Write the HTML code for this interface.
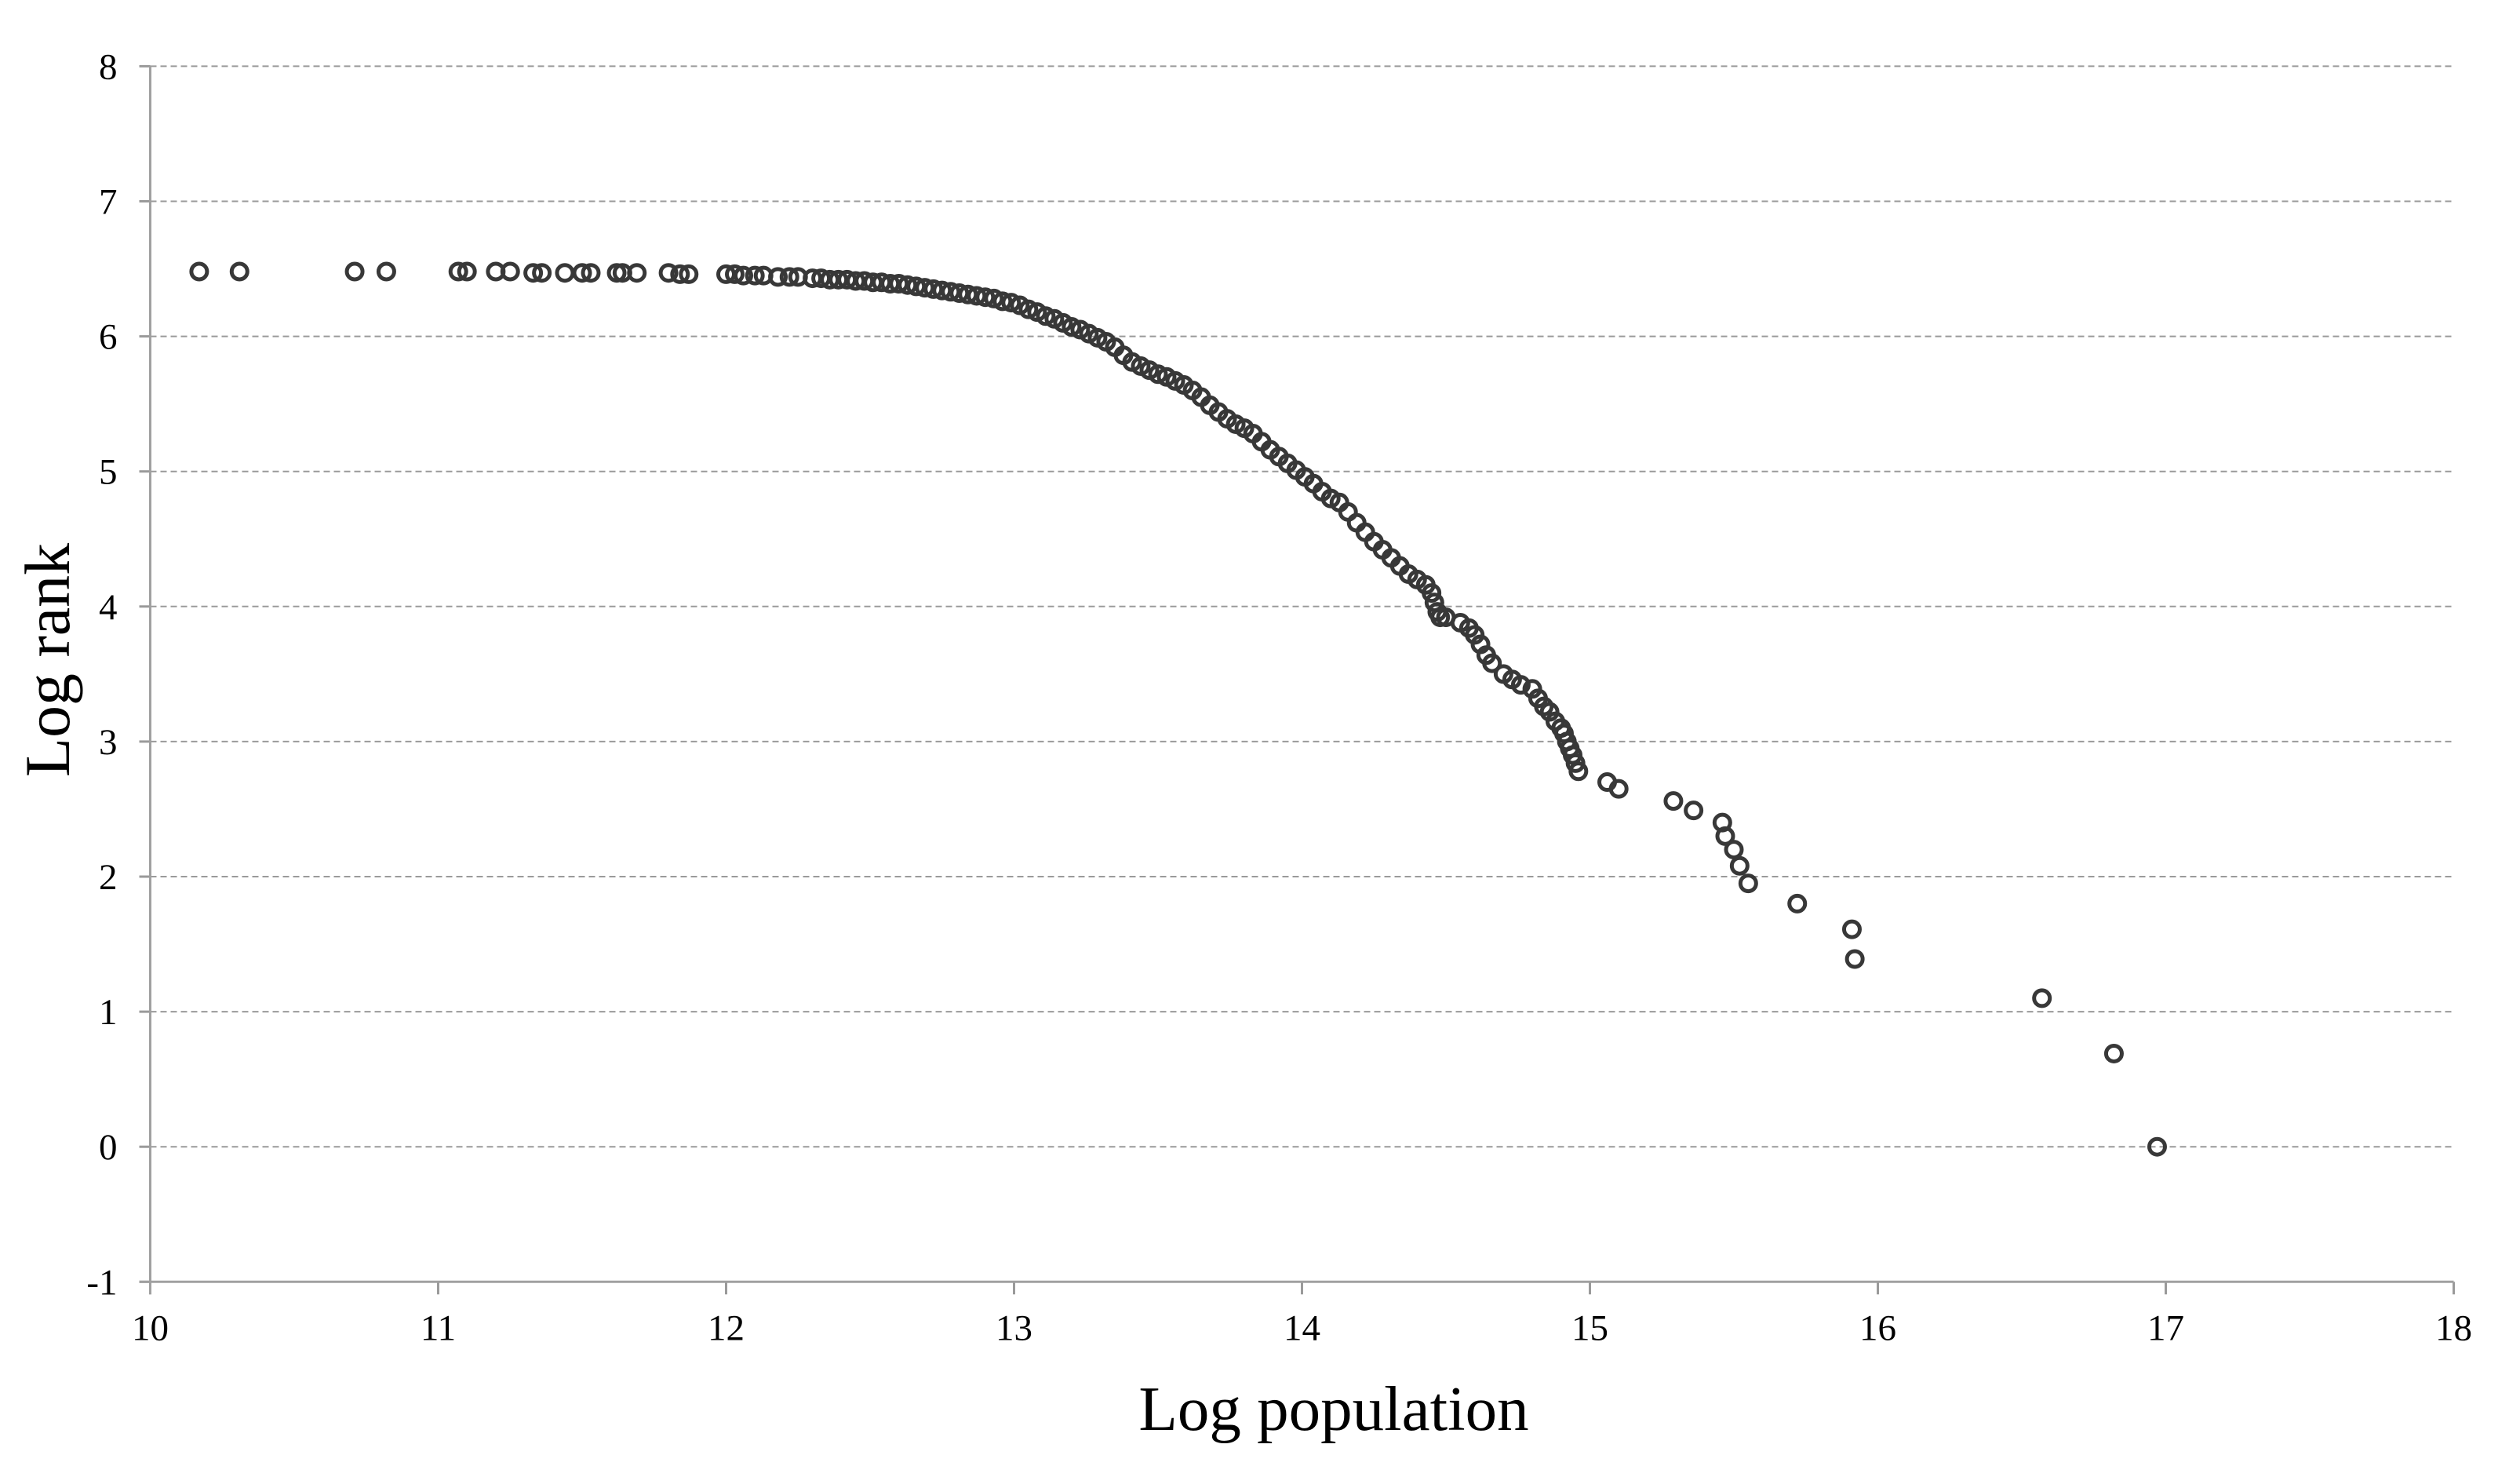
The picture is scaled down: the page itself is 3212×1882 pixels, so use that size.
<!DOCTYPE html>
<html><head><meta charset="utf-8"><style>
html,body{margin:0;padding:0;background:#fff;}
svg{display:block;}
</style></head><body>
<svg id="chart" width="3212" height="1882" viewBox="0 0 3212 1882" xmlns="http://www.w3.org/2000/svg">
<g id="grid"></g>
<g id="axes"></g>
<g id="points"></g>
<text x="0" y="0" transform="translate(88,841) rotate(-90)" text-anchor="middle" font-family="Liberation Serif, serif" font-size="82" fill="#000">Log rank</text>
<text x="1700" y="1822" text-anchor="middle" font-family="Liberation Serif, serif" font-size="81" fill="#000">Log population</text>
</svg>
<script>
const xTicks = [10,11,12,13,14,15,16,17,18];
const yTicks = [-1,0,1,2,3,4,5,6,7,8];
const logPop = [10.17,10.31,10.71,10.82,11.07,11.10,11.20,11.25,11.33,11.36,11.44,11.50,11.53,11.62,11.64,11.69,11.80,11.84,11.87,
12.00,12.03,12.06,12.10,12.13,12.18,12.22,12.25,
12.30,12.33,12.36,12.39,12.42,12.45,12.48,12.51,12.54,12.57,12.60,12.63,12.66,12.69,12.72,12.75,12.78,12.81,12.84,12.87,12.90,12.93,12.96,12.99,
13.02,13.05,13.08,13.11,13.14,13.17,13.20,13.23,13.26,13.29,13.32,13.35,13.38,13.41,13.44,13.47,13.50,13.53,13.56,13.59,13.62,13.65,13.68,13.71,13.74,13.77,13.80,13.83,13.86,13.89,13.92,13.95,13.98,
14.01,14.04,14.07,14.10,14.13,14.16,14.19,14.22,14.25,14.28,14.31,14.34,14.37,14.40,14.43,14.45,14.46,14.47,14.48,14.50,
14.55,14.58,14.60,14.62,14.64,14.66,14.70,14.73,14.76,14.80,14.82,14.84,14.86,14.88,14.90,14.91,14.92,14.93,14.94,14.95,14.96,
15.06,15.10,15.29,15.36,15.46,15.47,15.50,15.52,15.55,15.72,15.91,15.92,16.57,16.82,16.97];
const logRank = [6.48,6.48,6.48,6.48,6.48,6.48,6.48,6.48,6.47,6.47,6.47,6.47,6.47,6.47,6.47,6.47,6.47,6.46,6.46,
6.46,6.46,6.45,6.45,6.45,6.44,6.44,6.44,
6.43,6.43,6.42,6.42,6.42,6.41,6.41,6.40,6.40,6.39,6.39,6.38,6.37,6.36,6.35,6.34,6.33,6.32,6.31,6.30,6.29,6.28,6.26,6.25,
6.23,6.20,6.18,6.15,6.13,6.10,6.07,6.05,6.02,5.99,5.96,5.92,5.86,5.81,5.78,5.75,5.72,5.70,5.67,5.64,5.60,5.55,5.49,5.44,5.39,5.35,5.32,5.28,5.22,5.16,5.11,5.06,5.01,
4.96,4.91,4.85,4.80,4.77,4.70,4.62,4.55,4.48,4.42,4.36,4.30,4.24,4.20,4.16,4.10,4.03,3.96,3.92,3.92,
3.88,3.84,3.79,3.72,3.64,3.58,3.50,3.46,3.42,3.39,3.32,3.26,3.22,3.15,3.10,3.06,3.00,2.95,2.90,2.84,2.78,
2.70,2.65,2.56,2.49,2.40,2.30,2.20,2.08,1.95,1.80,1.61,1.39,1.10,0.69,0.00];

const NS='http://www.w3.org/2000/svg';
const X0=191.5, XU=367, Y8=84.4, YU=172.1;
function sx(v){return X0+(v-10)*XU;}
function sy(v){return Y8+(8-v)*YU;}
const grid=document.getElementById('grid'), axes=document.getElementById('axes'), pts=document.getElementById('points');
function mk(tag,attrs,parent){const e=document.createElementNS(NS,tag);for(const k in attrs)e.setAttribute(k,attrs[k]);parent.appendChild(e);return e;}

yTicks.forEach(v=>{
  const y=sy(v);
  if(v>-1){
    const g=mk('line',{x1:sx(10),x2:sx(18),y1:y,y2:y,stroke:'#9a9a9a','stroke-width':2,'stroke-dasharray':'8 5'},grid);
    
    
  }
  const t=mk('line',{x1:sx(10)-14,x2:sx(10),y1:y,y2:y,stroke:'#9a9a9a','stroke-width':3},axes);
  
  
  const l=mk('text',{x:sx(10)-42,y:y+16,'text-anchor':'end','font-family':'Liberation Serif, serif','font-size':47,fill:'#000'},axes);
  l.textContent=String(v);
  
  
});
xTicks.forEach(v=>{
  const x=sx(v);
  const t=mk('line',{x1:x,x2:x,y1:sy(-1),y2:sy(-1)+16,stroke:'#9a9a9a','stroke-width':3},axes);
  
  
  const l=mk('text',{x:x,y:sy(-1)+74,'text-anchor':'middle','font-family':'Liberation Serif, serif','font-size':47,fill:'#000'},axes);
  l.textContent=String(v);
  
  
});
const ya=mk('line',{x1:sx(10),x2:sx(10),y1:sy(8),y2:sy(-1)+16,stroke:'#a0a0a0','stroke-width':3},axes);


const xa=mk('line',{x1:sx(10)-14,x2:sx(18),y1:sy(-1),y2:sy(-1),stroke:'#a0a0a0','stroke-width':3},axes);



for(let i=0;i<logPop.length;i++){
  const c=mk('circle',{cx:sx(logPop[i]),cy:sy(logRank[i]),r:10,fill:'none',stroke:'#383838','stroke-width':5},pts);
  
  
}
</script>
</body></html>
